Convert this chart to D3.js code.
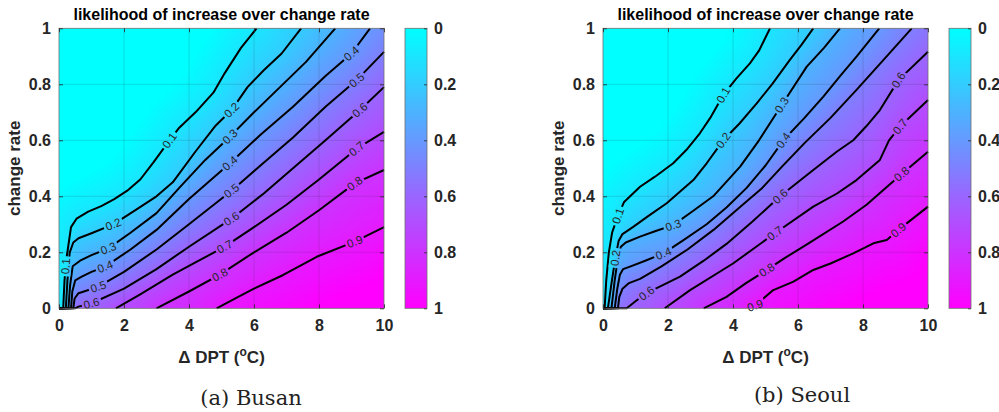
<!DOCTYPE html>
<html>
<head>
<meta charset="utf-8">
<script src="https://cdn.jsdelivr.net/npm/d3@7"></script>
<style>
  body { margin: 0; background: #fff; }
  svg text { font-family: "Liberation Sans", Arial, sans-serif; }
</style>
</head>
<body>
<svg id="chart" width="999" height="412"></svg>
<script>
// contour levels of the likelihood
var levels = [0.1, 0.2, 0.3, 0.4, 0.5, 0.6, 0.7, 0.8, 0.9];

// tick values / labels
var xTicks = [0, 2, 4, 6, 8, 10];
var xTickLabels = ["0", "2", "4", "6", "8", "10"];
var yTicks = [0, 0.2, 0.4, 0.6, 0.8, 1];
var yTickLabels = ["0", "0.2", "0.4", "0.6", "0.8", "1"];
var cbTicks = [0, 0.2, 0.4, 0.6, 0.8, 1];
var cbTickLabels = ["0", "0.2", "0.4", "0.6", "0.8", "1"];

// Busan contour lines, [dDPT, change rate], one list per level
var busanLines = [
  [[0,0],[0.13,0],[0.17,0.1],[0.22,0.17],[0.27,0.21],[0.37,0.29],[0.54,0.32],[0.9,0.345],[1.3,0.365],[1.7,0.39],[2.1,0.42],[2.5,0.46],[2.9,0.52],[3.4,0.6],[3.7,0.645],[4.2,0.7],[4.75,0.77],[5.1,0.84],[5.6,0.93],[6.08,1]],
  [[0,0],[0.21,0],[0.26,0.1],[0.33,0.2],[0.44,0.235],[0.6,0.25],[1,0.268],[1.67,0.3],[2.34,0.35],[3,0.4],[3.5,0.45],[4.2,0.56],[4.8,0.65],[5.31,0.708],[5.8,0.79],[6.3,0.85],[6.85,0.91],[7.45,1]],
  [[0,0],[0.29,0],[0.34,0.08],[0.42,0.15],[0.65,0.17],[1,0.19],[1.52,0.214],[2.2,0.27],[3,0.34],[3.7,0.43],[4.5,0.53],[5.26,0.613],[6,0.7],[6.8,0.79],[7.6,0.88],[8.5,1]],
  [[0,0],[0.37,0],[0.41,0.06],[0.5,0.1],[0.7,0.113],[1,0.13],[1.42,0.149],[2.2,0.21],[3,0.28],[4,0.39],[5.26,0.518],[6.2,0.62],[7.2,0.72],[8.2,0.83],[9,0.91],[9.57,1]],
  [[0,0],[0.44,0],[0.48,0.035],[0.6,0.054],[1.21,0.077],[2,0.13],[3,0.21],[4,0.3],[5.31,0.42],[6.2,0.51],[7.2,0.61],[8.2,0.72],[9.16,0.815],[10,0.916]],
  [[0,0],[0.5,0],[0.6,0.006],[1,0.018],[2,0.07],[3,0.14],[4,0.22],[5.31,0.32],[6.3,0.41],[7.2,0.5],[8.2,0.6],[9.26,0.708],[10,0.79]],
  [[1.75,0],[2.5,0.05],[3.5,0.12],[4.3,0.17],[5.1,0.22],[6,0.29],[7,0.37],[8,0.46],[9.16,0.57],[10,0.63]],
  [[3,0],[4,0.06],[4.95,0.12],[6,0.2],[7,0.27],[8,0.35],[9.1,0.446],[10,0.494]],
  [[4.85,0],[5.5,0.04],[6,0.07],[6.9,0.119],[7.93,0.184],[9.1,0.238],[10,0.29]]
];

// Seoul contour lines
var seoulLines = [
  [[0,0],[0.05,0],[0.1,0.1],[0.18,0.2],[0.28,0.27],[0.46,0.33],[0.65,0.38],[1.14,0.434],[1.6,0.47],[2.16,0.518],[2.6,0.57],[2.98,0.625],[3.3,0.68],[3.7,0.762],[4.1,0.82],[4.52,0.875],[4.8,0.92],[5.14,1]],
  [[0,0],[0.15,0],[0.25,0.08],[0.38,0.18],[0.48,0.24],[0.6,0.265],[0.93,0.291],[1.4,0.33],[1.96,0.375],[2.4,0.42],[2.78,0.458],[3.19,0.518],[3.7,0.6],[4.2,0.66],[4.73,0.732],[5.2,0.8],[5.75,0.887],[6.1,0.94],[6.47,1]],
  [[0,0],[0.26,0],[0.36,0.1],[0.46,0.18],[0.55,0.22],[0.7,0.235],[1.14,0.256],[1.6,0.275],[2.16,0.297],[2.8,0.35],[3.39,0.4],[4.22,0.506],[4.8,0.6],[5.5,0.726],[6.27,0.863],[6.8,0.93],[7.29,1]],
  [[0,0],[0.36,0],[0.44,0.07],[0.52,0.12],[0.62,0.14],[0.83,0.149],[1.3,0.17],[1.86,0.196],[2.5,0.245],[3.19,0.3],[3.8,0.36],[4.42,0.43],[5,0.51],[5.55,0.6],[6.2,0.68],[6.78,0.756],[7.3,0.83],[7.8,0.899],[8.5,1]],
  [[0,0],[0.46,0],[0.5,0.04],[0.6,0.07],[0.8,0.09],[1.14,0.105],[1.8,0.15],[2.6,0.21],[3.4,0.28],[4.2,0.36],[4.9,0.43],[5.5,0.505],[6.2,0.59],[7,0.68],[7.8,0.78],[8.5,0.87],[9.5,1]],
  [[0,0],[0.73,0],[1,0.025],[1.34,0.054],[2.37,0.113],[3.1,0.17],[3.8,0.23],[4.6,0.31],[5.45,0.4],[6.47,0.494],[7.2,0.56],[7.7,0.6],[8.1,0.65],[8.52,0.708],[9.09,0.815],[10,0.916]],
  [[1.9,0],[2.68,0.065],[4,0.16],[5.29,0.268],[6.47,0.363],[7.2,0.41],[7.8,0.458],[8.52,0.53],[8.8,0.6],[9.14,0.649],[10,0.744]],
  [[3.1,0],[3.8,0.041],[4.4,0.09],[5.04,0.137],[5.6,0.18],[6.3,0.23],[7.39,0.31],[8.11,0.37],[8.6,0.42],[9.19,0.48],[10,0.559]],
  [[4.45,0],[4.68,0.01],[5.24,0.065],[5.86,0.095],[6.47,0.137],[7,0.16],[7.7,0.196],[8.32,0.232],[8.73,0.244],[9.09,0.28],[10,0.363]]
];

// where the inline level labels sit, per level
var busanLabelAt = [
  [[0.22,0.15],[3.4,0.6]],
  [[1.67,0.3],[5.31,0.708]],
  [[1.52,0.214],[5.26,0.613]],
  [[1.42,0.149],[5.26,0.518],[9.0,0.91]],
  [[1.21,0.077],[5.31,0.42],[9.16,0.815]],
  [[1.0,0.018],[5.31,0.32],[9.26,0.708]],
  [[5.1,0.22],[9.16,0.57]],
  [[4.95,0.12],[9.1,0.446]],
  [[9.1,0.238]]
];
var seoulLabelAt = [
  [[0.46,0.33],[3.7,0.762]],
  [[0.38,0.18],[3.7,0.6]],
  [[2.16,0.297],[5.5,0.726]],
  [[1.86,0.196],[5.55,0.6]],
  [],
  [[1.34,0.054],[5.45,0.4],[9.09,0.815]],
  [[5.29,0.268],[9.14,0.649]],
  [[5.04,0.137],[9.19,0.48]],
  [[4.68,0.01],[9.09,0.28]]
];

var W = 325, H = 280, TOP = 28.3;
var panels = [
  {id: "busan", left: 59, lines: busanLines, labels: busanLabelAt, caption: "(a) Busan", capX: 251, capY: 405},
  {id: "seoul", left: 603, lines: seoulLines, labels: seoulLabelAt, caption: "(b) Seoul", capX: 802, capY: 402}
];

var svg = d3.select("#chart");
var defs = svg.append("defs");
var x = d3.scaleLinear().domain([0, 10]).range([0, W]);
var y = d3.scaleLinear().domain([0, 1]).range([H, 0]);
var cb = d3.scaleLinear().domain([0, 1]).range([0, H]);

// MATLAB "cool" colormap
function cool(z) {
  z = Math.max(0, Math.min(1, z));
  return [Math.round(255 * z), Math.round(255 * (1 - z)), 255];
}

function nearest(pts, p) {
  var best = Infinity, bp = null, ang = 0;
  for (var i = 0; i < pts.length - 1; i++) {
    var a = pts[i], b = pts[i + 1];
    var dx = b[0] - a[0], dy = b[1] - a[1];
    var L = dx * dx + dy * dy;
    var t = L ? ((p[0] - a[0]) * dx + (p[1] - a[1]) * dy) / L : 0;
    t = Math.max(0, Math.min(1, t));
    var ex = a[0] + t * dx - p[0], ey = a[1] + t * dy - p[1];
    var d = ex * ex + ey * ey;
    if (d < best) { best = d; bp = [a[0] + t * dx, a[1] + t * dy]; ang = Math.atan2(dy, dx); }
  }
  return {d: Math.sqrt(best), p: bp, ang: ang};
}

// region on the high-likelihood side (lower right) of one contour
function highSide(pts, endsOnTop) {
  var p0 = pts[0], pn = pts[pts.length - 1];
  var poly = pts.slice();
  if (endsOnTop) poly.push([pn[0], -60], [W + 60, -60]);
  else poly.push([W + 60, pn[1]]);
  poly.push([W + 60, H + 60], [p0[0], H + 60]);
  return poly;
}

// fill image from the contour lines, blending between neighbouring levels
function fieldImage(pxLines, polys) {
  var cv = document.createElement("canvas");
  cv.width = W; cv.height = H;
  var ctx = cv.getContext("2d");
  var img = ctx.createImageData(W, H);
  var n = levels.length;
  for (var j = 0; j < H; j++) {
    for (var i = 0; i < W; i++) {
      var p = [i + 0.5, j + 0.5];
      var lo = -1;
      for (var k = 0; k < n; k++) if (d3.polygonContains(polys[k], p)) lo = k;
      var z;
      if (lo < 0) {
        z = levels[0] * Math.max(0, 1 - nearest(pxLines[0], p).d / 35);
      } else if (lo === n - 1) {
        z = levels[n - 1] + (1 - levels[n - 1]) * Math.min(1, nearest(pxLines[n - 1], p).d / 45);
      } else {
        var a = nearest(pxLines[lo], p).d, b = nearest(pxLines[lo + 1], p).d;
        z = levels[lo] + (levels[lo + 1] - levels[lo]) * a / (a + b);
      }
      var c = cool(z), o = (j * W + i) * 4;
      img.data[o] = c[0]; img.data[o + 1] = c[1]; img.data[o + 2] = c[2]; img.data[o + 3] = 255;
    }
  }
  ctx.putImageData(img, 0, 0);
  return cv.toDataURL();
}

// colorbar gradient
var grad = defs.append("linearGradient").attr("id", "coolGrad")
  .attr("x1", 0).attr("y1", 0).attr("x2", 0).attr("y2", 1);
grad.append("stop").attr("offset", "0%").attr("stop-color", "rgb(" + cool(0).join(",") + ")");
grad.append("stop").attr("offset", "100%").attr("stop-color", "rgb(" + cool(1).join(",") + ")");

function styleAxis(sel) {
  sel.attr("font-family", null).attr("font-size", null);
  sel.select(".domain").remove();
  sel.selectAll(".tick line").attr("stroke", "#262626").attr("stroke-width", 0.8);
  sel.selectAll(".tick text")
    .attr("fill", "#262626")
    .style("font-size", "16px")
    .style("font-weight", "bold");
}

panels.forEach(function(P) {
  var g = svg.append("g").attr("transform", "translate(" + P.left + "," + TOP + ")");

  var pxLines = P.lines.map(function(line) {
    return line.map(function(d) { return [x(d[0]), y(d[1])]; });
  });
  var polys = P.lines.map(function(line, k) {
    return highSide(pxLines[k], line[line.length - 1][1] >= 0.999);
  });

  g.append("image")
    .attr("href", fieldImage(pxLines, polys))
    .attr("width", W).attr("height", H)
    .attr("preserveAspectRatio", "none");

  // grid
  g.selectAll(".gx").data(xTicks.slice(1, -1)).join("line")
    .attr("x1", function(d) { return x(d); }).attr("x2", function(d) { return x(d); })
    .attr("y1", 0).attr("y2", H)
    .attr("stroke", "#262626").attr("stroke-opacity", 0.15);
  g.selectAll(".gy").data(yTicks.slice(1, -1)).join("line")
    .attr("y1", function(d) { return y(d); }).attr("y2", function(d) { return y(d); })
    .attr("x1", 0).attr("x2", W)
    .attr("stroke", "#262626").attr("stroke-opacity", 0.15);

  // label placement along the lines
  var labelData = [];
  P.labels.forEach(function(list, k) {
    list.forEach(function(at) {
      var r = nearest(pxLines[k], [x(at[0]), y(at[1])]);
      var deg = r.ang * 180 / Math.PI;
      if (deg > 90) deg -= 180;
      if (deg < -90) deg += 180;
      labelData.push({text: String(levels[k]), p: r.p, deg: deg});
    });
  });

  var mask = defs.append("mask").attr("id", "gap-" + P.id)
    .attr("maskUnits", "userSpaceOnUse")
    .attr("x", -20).attr("y", -20).attr("width", W + 40).attr("height", H + 40);
  mask.append("rect").attr("x", -20).attr("y", -20).attr("width", W + 40).attr("height", H + 40).attr("fill", "#fff");
  mask.selectAll("rect.hole").data(labelData).join("rect")
    .attr("class", "hole")
    .attr("x", -10).attr("y", -5.5).attr("width", 20).attr("height", 11)
    .attr("fill", "#000")
    .attr("transform", function(d) { return "translate(" + d.p[0] + "," + d.p[1] + ") rotate(" + d.deg + ")"; });

  var line = d3.line().x(function(d) { return x(d[0]); }).y(function(d) { return y(d[1]); });
  g.append("g").attr("mask", "url(#gap-" + P.id + ")")
    .selectAll("path").data(P.lines).join("path")
    .attr("d", line)
    .attr("fill", "none")
    .attr("stroke", "#000")
    .attr("stroke-width", 2)
    .attr("stroke-linejoin", "round");

  g.selectAll("text.clabel").data(labelData).join("text")
    .attr("class", "clabel")
    .attr("transform", function(d) { return "translate(" + d.p[0] + "," + d.p[1] + ") rotate(" + d.deg + ")"; })
    .attr("text-anchor", "middle")
    .attr("dy", "0.35em")
    .attr("fill", "#262626")
    .style("font-size", "11.5px")
    .text(function(d) { return d.text; });

  // box
  g.append("rect").attr("width", W).attr("height", H)
    .attr("fill", "none").attr("stroke", "#6e6e6e").attr("stroke-width", 0.8);

  // axes (ticks point inward, as in MATLAB)
  g.append("g").attr("transform", "translate(0," + H + ")")
    .call(d3.axisBottom(x).tickValues(xTicks).tickSizeInner(-4).tickSizeOuter(0).tickPadding(11.5)
      .tickFormat(function(d, i) { return xTickLabels[i]; }))
    .call(styleAxis);
  g.append("g")
    .call(d3.axisTop(x).tickValues(xTicks).tickSizeInner(-4).tickSizeOuter(0).tickFormat(""))
    .call(styleAxis);
  g.append("g")
    .call(d3.axisLeft(y).tickValues(yTicks).tickSizeInner(-4).tickSizeOuter(0).tickPadding(8)
      .tickFormat(function(d, i) { return yTickLabels[i]; }))
    .call(styleAxis);
  g.append("g").attr("transform", "translate(" + W + ",0)")
    .call(d3.axisRight(y).tickValues(yTicks).tickSizeInner(-4).tickSizeOuter(0).tickFormat(""))
    .call(styleAxis);

  // titles
  g.append("text")
    .attr("x", W / 2).attr("y", 20 - TOP)
    .attr("text-anchor", "middle")
    .attr("fill", "#000")
    .style("font-size", "16px").style("font-weight", "bold")
    .text("likelihood of increase over change rate");

  g.append("text")
    .attr("transform", "translate(-39," + (H / 2) + ") rotate(-90)")
    .attr("text-anchor", "middle")
    .attr("fill", "#262626")
    .style("font-size", "17px").style("font-weight", "bold")
    .text("change rate");

  var xl = g.append("text")
    .attr("x", W / 2).attr("y", 363.3 - TOP)
    .attr("text-anchor", "middle")
    .attr("fill", "#262626")
    .style("font-size", "17px").style("font-weight", "bold");
  xl.append("tspan").text("\u0394 DPT (");
  xl.append("tspan").attr("dy", -7).style("font-size", "12px").text("o");
  xl.append("tspan").attr("dy", 7).text("C)");

  // colorbar
  var cbg = g.append("g").attr("transform", "translate(" + (W + 21) + ",0)");
  cbg.append("rect").attr("width", 22).attr("height", H)
    .attr("fill", "url(#coolGrad)").attr("stroke", "#6e6e6e").attr("stroke-width", 0.8);
  cbg.append("g").attr("transform", "translate(22,0)")
    .call(d3.axisRight(cb).tickValues(cbTicks).tickSizeInner(-3).tickSizeOuter(0).tickPadding(7)
      .tickFormat(function(d, i) { return cbTickLabels[i]; }))
    .call(styleAxis);

  // caption
  svg.append("text")
    .attr("x", P.capX).attr("y", P.capY)
    .attr("text-anchor", "middle")
    .attr("fill", "#222")
    .style("font-family", "'DejaVu Serif', 'Liberation Serif', serif")
    .style("font-size", "21px")
    .text(P.caption);
});
</script>
</body>
</html>
